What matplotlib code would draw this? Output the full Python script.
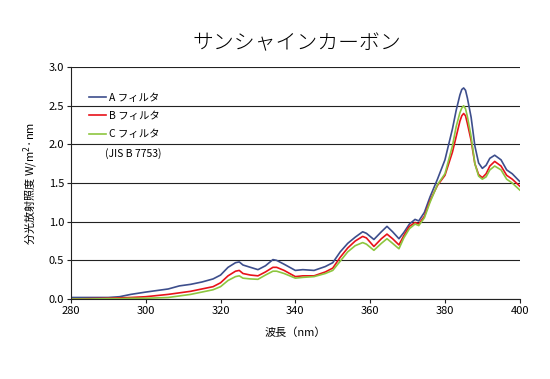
import matplotlib
matplotlib.use("Agg")
import matplotlib.pyplot as plt

plt.rcParams['font.family'] = ['Noto Sans CJK JP', 'DejaVu Sans']

# 波長 (nm)
wl = [280, 285, 290, 293, 296, 300, 303, 306, 309, 312, 315, 318, 320, 322, 324, 325,
      326, 328, 330, 332, 334, 335, 337, 340, 342, 345, 348, 350, 352, 354, 356, 358,
      359, 361, 363, 364.5, 366, 367.7, 369, 370.5, 372, 373, 374.5, 376, 378, 380,
      382, 383, 384, 384.5, 385, 385.5, 386, 387, 388, 389, 390, 391, 392, 393.3, 395, 396.5, 398, 400]

filter_a = [0.02, 0.02, 0.02, 0.03, 0.06, 0.09, 0.11, 0.13, 0.17, 0.19, 0.22, 0.26, 0.31, 0.41, 0.47, 0.48,
            0.44, 0.41, 0.38, 0.43, 0.51, 0.50, 0.45, 0.37, 0.38, 0.37, 0.42, 0.47, 0.61, 0.72, 0.80, 0.87,
            0.85, 0.77, 0.87, 0.94, 0.87, 0.78, 0.86, 0.97, 1.03, 1.01, 1.12, 1.32, 1.55, 1.80,
            2.20, 2.44, 2.64, 2.71, 2.73, 2.70, 2.60, 2.35, 1.98, 1.76, 1.69, 1.73, 1.82, 1.86, 1.80, 1.67, 1.62, 1.52]

filter_b = [0.0, 0.005, 0.01, 0.015, 0.02, 0.03, 0.045, 0.06, 0.08, 0.10, 0.13, 0.16, 0.21, 0.30, 0.36, 0.37,
            0.33, 0.31, 0.30, 0.35, 0.41, 0.41, 0.37, 0.29, 0.30, 0.30, 0.35, 0.40, 0.54, 0.66, 0.75, 0.81,
            0.79, 0.68, 0.78, 0.84, 0.78, 0.70, 0.82, 0.94, 0.99, 0.97, 1.07, 1.27, 1.47, 1.60,
            1.90, 2.10, 2.30, 2.37, 2.40, 2.37, 2.27, 2.05, 1.75, 1.61, 1.57, 1.62, 1.72, 1.78, 1.72, 1.60, 1.55, 1.46]

filter_c = [0.0, 0.0, 0.005, 0.005, 0.01, 0.01, 0.015, 0.02, 0.04, 0.06, 0.09, 0.12, 0.16, 0.24, 0.29, 0.30,
            0.27, 0.26, 0.255, 0.31, 0.36, 0.36, 0.33, 0.27, 0.28, 0.29, 0.33, 0.37, 0.49, 0.61, 0.69, 0.73,
            0.71, 0.63, 0.72, 0.78, 0.72, 0.65, 0.79, 0.91, 0.97, 0.95, 1.05, 1.25, 1.48, 1.62,
            1.98, 2.23, 2.41, 2.47, 2.50, 2.46, 2.36, 2.10, 1.75, 1.59, 1.55, 1.58, 1.67, 1.72, 1.67, 1.55, 1.50, 1.41]

labels = ['A フィルタ', 'B フィルタ', 'C フィルタ']
colors = ['#3d4e8c', '#e8121a', '#8dc63f']

fig = plt.figure(figsize=(5.5, 3.79), dpi=100)
ax = fig.add_axes([0.129, 0.211, 0.816, 0.612])

for y, lab, c in zip([filter_a, filter_b, filter_c], labels, colors):
    ax.plot(wl, y, color=c, lw=1.2, label=lab)

ax.set_xlim(280, 400)
ax.set_ylim(0, 3.0)
ax.set_xticks(range(280, 401, 20))
ax.set_yticks([i * 0.5 for i in range(7)])
ax.set_yticklabels(['%.1f' % (i * 0.5) for i in range(7)])
ax.grid(axis='y', color='#222222', lw=0.8)
ax.set_axisbelow(True)
for s in ['top', 'right']:
    ax.spines[s].set_visible(False)
ax.spines['left'].set_color('#222222')
ax.spines['bottom'].set_color('#222222')
ax.tick_params(axis='both', labelsize=8, length=3, width=0.8, color='#222222', pad=2)

ax.set_xlabel('波長（nm）', fontsize=8, labelpad=8)
ax.set_ylabel('分光放射照度 W/m$^2$·nm', fontsize=8, labelpad=6)

leg = ax.legend(loc='upper left', bbox_to_anchor=(0.02, 0.93), frameon=False,
                fontsize=7.5, handlelength=1.6, handletextpad=0.3, labelspacing=0.8)
ax.text(0.075, 0.627, '(JIS B 7753)', transform=ax.transAxes, fontsize=7.5, va='center')

fig.suptitle('サンシャインカーボン', x=0.54, y=0.915, fontsize=15, fontweight='light')

fig.savefig('out.png', dpi=100)
